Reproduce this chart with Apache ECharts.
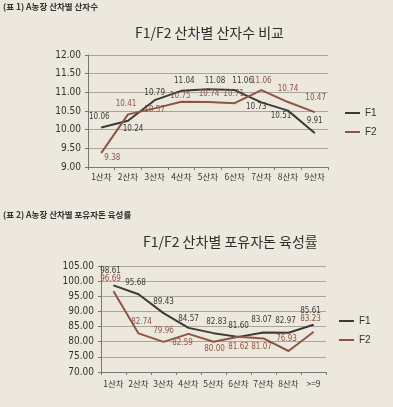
<!DOCTYPE html>
<html><head><meta charset="utf-8">
<script src="https://cdn.jsdelivr.net/npm/echarts@6/dist/echarts.min.js"></script>
<style>html,body{margin:0;padding:0;background:#ede8dd;}#c{width:393px;height:407px;}</style>
</head><body><div id="c"></div>
<script>
// ---- data ----
const categories1 = ['1산차','2산차','3산차','4산차','5산차','6산차','7산차','8산차','9산차'];
const f1Litter = [10.06, 10.24, 10.79, 11.04, 11.08, 11.06, 10.73, 10.51, 9.91];
const f2Litter = [9.38, 10.41, 10.57, 10.75, 10.74, 10.71, 11.06, 10.74, 10.47];
const yTicks1 = { min: 9, max: 12, interval: 0.5 };

const categories2 = ['1산차','2산차','3산차','4산차','5산차','6산차','7산차','8산차','>=9'];
const f1Rearing = [98.61, 95.68, 89.43, 84.57, 82.83, 81.60, 83.07, 82.97, 85.61];
const f2Rearing = [96.69, 82.74, 79.96, 82.59, 80.00, 81.62, 81.07, 76.93, 83.23];
const yTicks2 = { min: 70, max: 105, interval: 5 };

const seriesNames = ['F1', 'F2'];

// ---- label placement (pixel offsets from each point) ----
const off1F1 = [[-2,-11],[5,8],[0,-7],[3,-10],[7,-8],[8,-9],[-5,5],[-7,5],[0,-12]];
const off1F2 = [[11,5],[-2,-10],[0,2],[-1,-6],[1,-8],[-1,-9],[0,-9],[0,-13],[1,-14]];
const off2F1 = [[-3,-14],[-3,-11],[0,-11],[0,-9],[3,-11],[0,-11],[-2,-12],[-3,-12],[-3,-14]];
const off2F2 = [[-3,-12],[3,-11],[0,-11],[-6,9],[1,7],[0,10],[-2,8],[-2,-12],[-3,-13]];

const C1 = '#3a3a38', C2 = '#8e5546';
const NUM_FONT = '"Liberation Sans Narrow","DejaVu Sans Condensed","Liberation Sans",sans-serif';
const KR_FONT = '"Noto Sans CJK KR","Noto Sans",sans-serif';

function items(vals, offs, color) {
  return vals.map((v, i) => ({
    value: v,
    label: { show: true, position: 'inside', offset: offs[i], color: color,
      fontFamily: NUM_FONT, fontSize: 8, align: 'center', verticalAlign: 'middle',
      formatter: (p) => p.value.toFixed(2) }
  }));
}

function xAx(gi, cats, margin) {
  return {
    type: 'category', gridIndex: gi, data: cats, boundaryGap: true,
    axisLine: { show: true, lineStyle: { color: '#777', width: 1 } },
    axisTick: { show: true, length: 3, alignWithLabel: false, interval: 0, lineStyle: { color: '#777' } },
    axisLabel: { fontFamily: KR_FONT, fontSize: 8.5, color: '#333', margin: margin, interval: 0 }
  };
}
function yAx(gi, t) {
  return {
    type: 'value', gridIndex: gi, min: t.min, max: t.max, interval: t.interval,
    axisLine: { show: true, lineStyle: { color: '#777', width: 1 } },
    axisTick: { show: true, length: 3, lineStyle: { color: '#777' } },
    splitLine: { show: true, lineStyle: { color: '#a9a59d', width: 1 } },
    axisLabel: { fontFamily: NUM_FONT, fontSize: 10, color: '#333', margin: 7,
      formatter: (v) => v.toFixed(2) }
  };
}
function ser(name, gi, vals, offs, color) {
  return {
    name: name, type: 'line', xAxisIndex: gi, yAxisIndex: gi,
    data: items(vals, offs, color),
    symbol: 'circle', symbolSize: 1, showSymbol: true,
    lineStyle: { color: color, width: 2 }, itemStyle: { color: color },
    emphasis: { disabled: true }, animation: false
  };
}
function leg(top, left) {
  return {
    data: seriesNames, orient: 'vertical', top: top, left: left,
    icon: 'rect', itemWidth: 15, itemHeight: 2, itemGap: 9,
    textStyle: { fontFamily: '"Liberation Sans",sans-serif', fontSize: 10, color: '#333' }
  };
}

const chart = echarts.init(document.getElementById('c'), null, { renderer: 'canvas' });
chart.setOption({
  backgroundColor: '#ede8dd',
  animation: false,
  color: [C1, C2],
  graphic: [
    { type: 'text', left: 3, top: 3, style: { text: '(표 1) A농장 산차별 산자수', font: 'bold 8.5px ' + KR_FONT, fill: '#333' } },
    { type: 'text', left: 135, top: 26, style: { text: 'F1/F2 산차별 산자수 비교', font: '14px ' + KR_FONT, fill: '#2e2e2e' } },
    { type: 'text', left: 3, top: 211, style: { text: '(표 2) A농장 산차별 포유자돈 육성률', font: 'bold 8.5px ' + KR_FONT, fill: '#333' } },
    { type: 'text', left: 143, top: 235, style: { text: 'F1/F2 산차별 포유자돈 육성률', font: '14px ' + KR_FONT, fill: '#2e2e2e' } }
  ],
  grid: [
    { left: 88, top: 55, width: 240, height: 112 },
    { left: 101, top: 266, width: 225, height: 106 }
  ],
  legend: [leg(103, 340), leg(311, 334)],
  xAxis: [xAx(0, categories1, 6), xAx(1, categories2, 8)],
  yAxis: [yAx(0, yTicks1), yAx(1, yTicks2)],
  series: [
    ser(seriesNames[0], 0, f1Litter, off1F1, C1),
    ser(seriesNames[1], 0, f2Litter, off1F2, C2),
    ser(seriesNames[0], 1, f1Rearing, off2F1, C1),
    ser(seriesNames[1], 1, f2Rearing, off2F2, C2)
  ]
});
</script></body></html>
